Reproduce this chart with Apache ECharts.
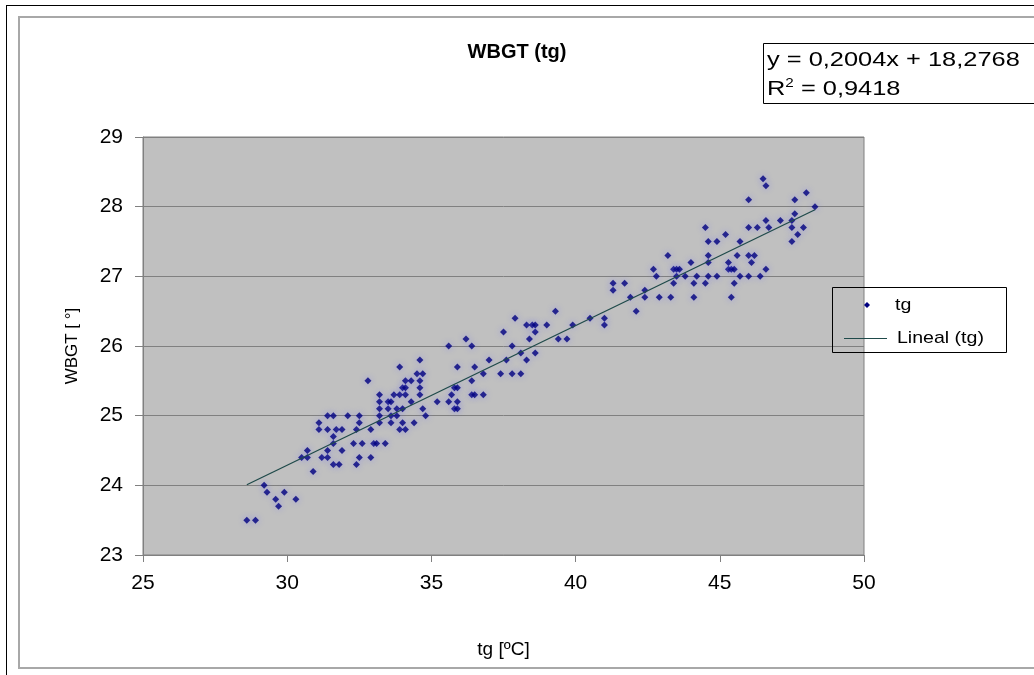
<!DOCTYPE html>
<html>
<head>
<meta charset="utf-8">
<script src="https://cdn.jsdelivr.net/npm/echarts@6/dist/echarts.min.js"></script>
<style>
  html, body { margin: 0; padding: 0; background: #ffffff; }
  #chart { width: 1034px; height: 675px; }
</style>
</head>
<body>
<div id="chart"></div>
<script>
// Globe temperature tg (°C) of each measurement
const tg = [
  28.6, 28.9, 29.7, 29.6, 30.3, 29.3, 29.9, 29.2, 30.9,
  31.6, 31.8, 32.4,
  30.5, 30.7, 31.2, 31.4, 32.5, 32.9,
  30.7, 31.4, 31.9,
  31.6, 32.3, 32.6, 33.0, 33.1, 33.4,
  31.6,
  31.1, 31.4, 31.7, 31.9, 32.4, 32.9, 33.9, 34.1,
  31.1, 32.5, 33.2, 33.6, 34.0, 34.4,
  31.4, 31.6, 32.1, 32.5, 33.2, 33.6, 33.8, 34.8,
  33.2, 33.5, 33.8, 34.0, 34.7, 35.8, 35.9,
  33.2, 33.5, 33.6, 34.3, 35.2, 35.6, 35.9,
  33.2, 33.7, 33.9, 34.1, 34.6, 35.7, 36.4, 36.5, 36.8,
  34.0, 34.1, 34.6, 35.8, 35.9,
  32.8, 34.1, 34.3, 34.6, 36.4,
  34.5, 34.7, 36.8, 37.4, 37.8, 38.1,
  33.9, 35.9, 36.5,
  34.6, 37.0, 37.6, 38.3,
  38.1, 38.6,
  35.6, 36.4, 37.8,
  36.2, 38.4, 39.4, 39.7,
  37.5, 38.6,
  38.3, 38.5, 38.6, 39.0, 39.9, 41.0,
  37.9, 40.5, 41.0,
  39.3, 42.1,
  41.9, 42.4, 42.9, 43.3, 44.1, 45.4,
  41.3, 42.4,
  41.3, 41.7, 43.4, 44.1, 44.5, 45.5,
  42.8, 43.5, 43.8, 44.2, 44.6, 44.9, 45.7, 46.0, 46.4,
  42.7, 43.4, 43.5, 43.6, 45.3, 45.4, 45.5, 46.6,
  44.0, 44.6, 45.3, 46.1,
  43.2, 44.6, 45.6, 46.0, 46.2,
  44.6, 44.9, 45.7, 47.5,
  45.2, 47.7,
  44.5, 46.0, 46.3, 46.7, 47.5, 47.9,
  46.6, 47.1, 47.5,
  47.6, 48.3, 46.0, 47.6, 48.0, 46.6, 46.5
];

// WBGT index (°) of the same measurements, in the same order
const wbgt = [
  23.5, 23.5, 23.7, 23.8, 23.8, 23.9, 23.9, 24.0, 24.2,
  24.3, 24.3, 24.3,
  24.4, 24.4, 24.4, 24.4, 24.4, 24.4,
  24.5, 24.5, 24.5,
  24.6, 24.6, 24.6, 24.6, 24.6, 24.6,
  24.7,
  24.8, 24.8, 24.8, 24.8, 24.8, 24.8, 24.8, 24.8,
  24.9, 24.9, 24.9, 24.9, 24.9, 24.9,
  25.0, 25.0, 25.0, 25.0, 25.0, 25.0, 25.0, 25.0,
  25.1, 25.1, 25.1, 25.1, 25.1, 25.1, 25.1,
  25.2, 25.2, 25.2, 25.2, 25.2, 25.2, 25.2,
  25.3, 25.3, 25.3, 25.3, 25.3, 25.3, 25.3, 25.3, 25.3,
  25.4, 25.4, 25.4, 25.4, 25.4,
  25.5, 25.5, 25.5, 25.5, 25.5,
  25.6, 25.6, 25.6, 25.6, 25.6, 25.6,
  25.7, 25.7, 25.7,
  25.8, 25.8, 25.8, 25.8,
  25.9, 25.9,
  26.0, 26.0, 26.0,
  26.1, 26.1, 26.1, 26.1,
  26.2, 26.2,
  26.3, 26.3, 26.3, 26.3, 26.3, 26.3,
  26.4, 26.4, 26.4,
  26.5, 26.5,
  26.7, 26.7, 26.7, 26.7, 26.7, 26.7,
  26.8, 26.8,
  26.9, 26.9, 26.9, 26.9, 26.9, 26.9,
  27.0, 27.0, 27.0, 27.0, 27.0, 27.0, 27.0, 27.0, 27.0,
  27.1, 27.1, 27.1, 27.1, 27.1, 27.1, 27.1, 27.1,
  27.2, 27.2, 27.2, 27.2,
  27.3, 27.3, 27.3, 27.3, 27.3,
  27.5, 27.5, 27.5, 27.5,
  27.6, 27.6,
  27.7, 27.7, 27.7, 27.7, 27.7, 27.7,
  27.8, 27.8, 27.8,
  27.9, 28.0, 28.1, 28.1, 28.2, 28.3, 28.4
];

// Axis ticks
const xTicks = [25, 30, 35, 40, 45, 50];
const yTicks = [23, 24, 25, 26, 27, 28, 29];

// Linear trend line (least squares) as stated in the equation box
const slope = 0.2004;
const intercept = 18.2768;
const r2 = 0.9418;

const FONT = 'Liberation Sans, Arial, sans-serif';
const NARROW = 'Liberation Sans Narrow, Liberation Sans, Arial, sans-serif';
const TREND_COLOR = '#1f4a4a';
const MARK_COLOR = '#000080';

const points = tg.map((x, i) => [x, wbgt[i]]);
const xMin = Math.min(...tg);
const xMax = Math.max(...tg);
const trend = [xMin, xMax].map(x => [x, slope * x + intercept]);

const fmt = (v, d) => v.toFixed(d).replace('.', ',');

const chart = echarts.init(document.getElementById('chart'), null, { renderer: 'canvas' });

chart.setOption({
  animation: false,
  backgroundColor: '#ffffff',
  title: {
    text: 'WBGT (tg)',
    left: 512,
    textAlign: 'center',
    top: 37,
    textStyle: { fontFamily: FONT, fontSize: 20, fontWeight: 'bold', color: '#000' }
  },
  grid: {
    left: 143, top: 137, width: 721, height: 418,
    show: true,
    backgroundColor: '#c0c0c0',
    borderColor: '#808080',
    borderWidth: 1
  },
  xAxis: {
    type: 'value',
    min: xTicks[0],
    max: xTicks[xTicks.length - 1],
    interval: xTicks[1] - xTicks[0],
    axisLine: { show: true, onZero: false, lineStyle: { color: '#808080', width: 1 } },
    axisTick: { show: true, length: 7, lineStyle: { color: '#808080' } },
    splitLine: { show: false },
    axisLabel: { margin: 18, fontFamily: NARROW, fontSize: 21, color: '#000' },
    name: 'tg [ºC]',
    nameLocation: 'middle',
    nameGap: 85,
    nameTextStyle: { fontFamily: FONT, fontSize: 19, color: '#000' }
  },
  yAxis: {
    type: 'value',
    min: yTicks[0],
    max: yTicks[yTicks.length - 1],
    interval: yTicks[1] - yTicks[0],
    axisLine: { show: true, onZero: false, lineStyle: { color: '#808080', width: 1 } },
    axisTick: { show: true, length: 8, lineStyle: { color: '#808080' } },
    splitLine: { show: true, lineStyle: { color: '#808080', width: 1 } },
    axisLabel: { margin: 20, fontFamily: NARROW, fontSize: 21, color: '#000' },
    name: 'WBGT [ °]',
    nameLocation: 'middle',
    nameGap: 62,
    nameTextStyle: { fontFamily: FONT, fontSize: 17, color: '#000' }
  },
  series: [
    {
      name: 'tg',
      type: 'scatter',
      data: points,
      symbol: 'diamond',
      symbolSize: 7,
      itemStyle: {
        color: MARK_COLOR,
        shadowBlur: 6,
        shadowColor: 'rgba(110,110,255,0.6)'
      },
      silent: true
    },
    {
      name: 'Lineal (tg)',
      type: 'line',
      data: trend,
      showSymbol: false,
      lineStyle: { color: TREND_COLOR, width: 1.3 },
      silent: true,
      z: 3
    }
  ],
  graphic: [
    // chart-area frame
    { type: 'rect', z: -10, shape: { x: 19, y: 17, width: 1030, height: 651 },
      style: { fill: null, stroke: '#a8a8a8', lineWidth: 2 } },
    { type: 'line', z: -9, shape: { x1: 6, y1: 5.5, x2: 1034, y2: 5.5 },
      style: { stroke: '#000', lineWidth: 1 } },
    { type: 'line', z: -9, shape: { x1: 6.5, y1: 5, x2: 6.5, y2: 675 },
      style: { stroke: '#000', lineWidth: 1 } },
    // trend-line equation box
    { type: 'rect', z: 10, shape: { x: 763.5, y: 43.5, width: 290, height: 60 },
      style: { fill: '#fff', stroke: '#000', lineWidth: 1 } },
    { type: 'text', z: 11, x: 767, y: 60, scaleX: 1.27,
      style: { text: 'y = ' + fmt(slope, 4) + 'x + ' + fmt(intercept, 4),
               font: '20px ' + FONT, fill: '#000', verticalAlign: 'middle' } },
    { type: 'text', z: 11, x: 767, y: 89, scaleX: 1.27,
      style: { text: '{n|R}{s|2}{n| = ' + fmt(r2, 4) + '}',
               fill: '#000', verticalAlign: 'middle',
               rich: {
                 n: { fontFamily: FONT, fontSize: 20, color: '#000' },
                 s: { fontFamily: FONT, fontSize: 12, color: '#000', verticalAlign: 'top', padding: [0, 0, 10, 0] }
               } } },
    // legend
    { type: 'rect', z: 10, shape: { x: 832.5, y: 287.5, width: 174, height: 65 },
      style: { fill: null, stroke: '#000', lineWidth: 1 } },
    { type: 'polygon', z: 11, shape: { points: [[867, 302], [870, 305], [867, 308], [864, 305]] },
      style: { fill: MARK_COLOR } },
    { type: 'text', z: 11, x: 895, y: 305, scaleX: 1.15,
      style: { text: 'tg', font: '17px ' + FONT, fill: '#000', verticalAlign: 'middle' } },
    { type: 'line', z: 11, shape: { x1: 844, y1: 338.5, x2: 887, y2: 338.5 },
      style: { stroke: TREND_COLOR, lineWidth: 1.2 } },
    { type: 'text', z: 11, x: 897, y: 338, scaleX: 1.15,
      style: { text: 'Lineal (tg)', font: '17px ' + FONT, fill: '#000', verticalAlign: 'middle' } }
  ]
});
</script>
</body>
</html>
